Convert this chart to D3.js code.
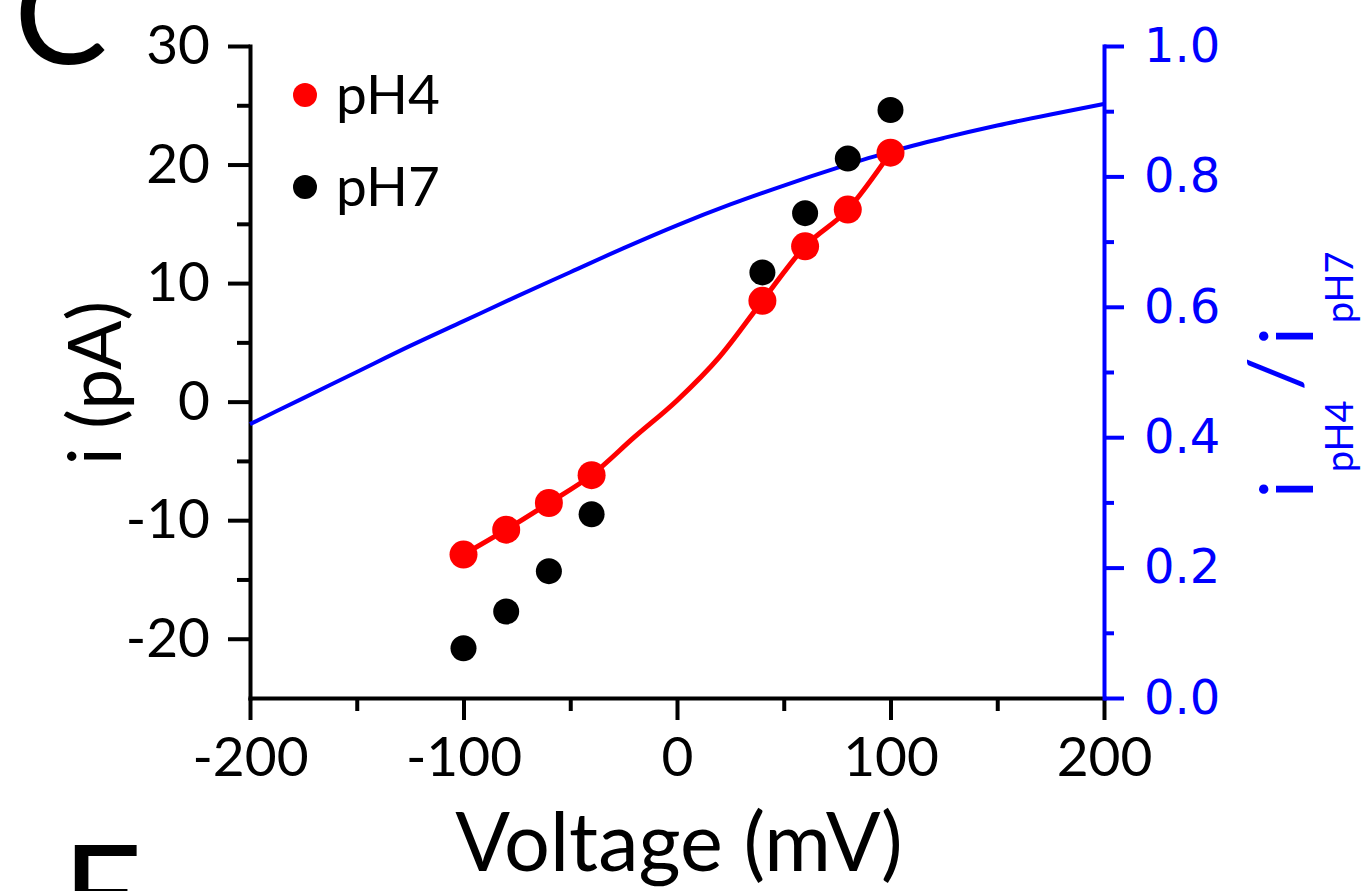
<!DOCTYPE html>
<html>
<head>
<meta charset="utf-8">
<script src="https://cdn.jsdelivr.net/npm/d3@7"></script>
<style>
  html, body { margin: 0; padding: 0; background: #fff; }
  svg { display: block; }
</style>
</head>
<body>
<svg id="chart" width="1368" height="891"></svg>
<script>
// ---------------- data ----------------
const voltages = [-100, -80, -60, -40, 40, 60, 80, 100];
const pH4Current = [-12.9, -10.8, -8.55, -6.2, 8.5, 13.1, 16.2, 21.0];
const pH7Current = [-20.8, -17.7, -14.3, -9.5, 10.9, 15.9, 20.5, 24.6];
// red connecting line (pH4 fit)
const fitVoltages = [-100, -80, -60, -40, -20, 0, 20, 40, 60, 80, 100];
const fitCurrent = [-12.9, -10.8, -8.55, -6.2, -3.0, 0.1, 3.8, 8.5, 13.1, 16.2, 21.0];
// blue ratio curve i_pH4 / i_pH7
const ratioVoltages = [-200, -175, -150, -125, -100, -75, -50, -25, 0, 25, 50, 75, 100, 125, 150, 175, 200];
const ratioValues = [0.420, 0.460, 0.500, 0.540, 0.578, 0.616, 0.653, 0.690, 0.725, 0.757, 0.786, 0.813, 0.838, 0.859, 0.878, 0.895, 0.911];
// ticks
const xTicks = [-200, -100, 0, 100, 200];
const xMinorTicks = [-150, -50, 50, 150];
const yLeftTicks = [-20, -10, 0, 10, 20, 30];
const yLeftMinorTicks = [-15, -5, 5, 15, 25];
const yRightTicks = [0, 0.2, 0.4, 0.6, 0.8, 1.0];
const yRightMinorTicks = [0.1, 0.3, 0.5, 0.7, 0.9];
const legendLabels = ["pH4", "pH7"];

// ---------------- drawing ----------------
const svg = d3.select("#chart");
const BLUE = "#0000ff", RED = "#ff0000";
const FONT = "Lato, 'Open Sans', sans-serif";
const RFONT = "'DejaVu Sans', sans-serif";
const intFmt = d => String(d);           // plain hyphen-minus like the reference
const decFmt = d => d.toFixed(1);

const x = d3.scaleLinear().domain([-200, 200]).range([250, 1104]);
const yL = d3.scaleLinear().domain([-25, 30]).range([698, 46]);
const yR = d3.scaleLinear().domain([0, 1]).range([698, 46]);

function styleAxis(g, color, font, size) {
  g.selectAll("path.domain").attr("stroke", color).attr("stroke-width", 4).attr("stroke-linecap", "square");
  g.selectAll(".tick line").attr("stroke", color).attr("stroke-width", 4);
  g.selectAll(".tick text").attr("fill", color).style("font-family", font).style("font-size", size + "px");
}

// left minor
svg.append("g").attr("transform", "translate(250,0)")
  .call(d3.axisLeft(yL).tickValues(yLeftMinorTicks).tickSize(13).tickFormat(""))
  .call(g => { g.select(".domain").remove(); styleAxis(g, "#000", FONT, 55); });
// left major
svg.append("g").attr("transform", "translate(250,0)")
  .call(d3.axisLeft(yL).tickValues(yLeftTicks).tickSize(22).tickSizeOuter(0).tickPadding(18).tickFormat(intFmt))
  .call(g => styleAxis(g, "#000", FONT, 55));

// bottom minor
svg.append("g").attr("transform", "translate(0,698)")
  .call(d3.axisBottom(x).tickValues(xMinorTicks).tickSize(13).tickFormat(""))
  .call(g => { g.select(".domain").remove(); styleAxis(g, "#000", FONT, 55); });
// bottom major
svg.append("g").attr("transform", "translate(0,698)")
  .call(d3.axisBottom(x).tickValues(xTicks).tickSize(22).tickSizeOuter(0).tickPadding(17).tickFormat(intFmt))
  .call(g => styleAxis(g, "#000", FONT, 55));

// right minor
svg.append("g").attr("transform", "translate(1104,0)")
  .call(d3.axisRight(yR).tickValues(yRightMinorTicks).tickSize(10).tickFormat(""))
  .call(g => { g.select(".domain").remove(); styleAxis(g, BLUE, RFONT, 48); });
// right major
svg.append("g").attr("transform", "translate(1104,0)")
  .call(d3.axisRight(yR).tickValues(yRightTicks).tickSize(20).tickSizeOuter(0).tickPadding(20).tickFormat(decFmt))
  .call(g => styleAxis(g, BLUE, RFONT, 48));

// blue ratio curve
svg.append("path")
  .datum(ratioVoltages.map((v, i) => [v, ratioValues[i]]))
  .attr("fill", "none").attr("stroke", BLUE).attr("stroke-width", 4)
  .attr("d", d3.line().x(d => x(d[0])).y(d => yR(d[1])).curve(d3.curveMonotoneX));

// red fit line
svg.append("path")
  .datum(fitVoltages.map((v, i) => [v, fitCurrent[i]]))
  .attr("fill", "none").attr("stroke", RED).attr("stroke-width", 5).attr("stroke-linejoin", "round")
  .attr("d", d3.line().x(d => x(d[0])).y(d => yL(d[1])).curve(d3.curveMonotoneX));

// pH7 points
svg.append("g").selectAll("circle")
  .data(voltages.map((v, i) => [v, pH7Current[i]]))
  .join("circle")
  .attr("cx", d => x(d[0])).attr("cy", d => yL(d[1])).attr("r", 13).attr("fill", "#000");

// pH4 points
svg.append("g").selectAll("circle")
  .data(voltages.map((v, i) => [v, pH4Current[i]]))
  .join("circle")
  .attr("cx", d => x(d[0])).attr("cy", d => yL(d[1])).attr("r", 14).attr("fill", RED);

// legend
const legendColors = [RED, "#000"];
const lg = svg.append("g");
legendLabels.forEach((lab, i) => {
  const cy = 95 + i * 92;
  lg.append("circle").attr("cx", 305).attr("cy", cy).attr("r", 12).attr("fill", legendColors[i]);
  lg.append("text").attr("x", 336).attr("y", cy + 19).text(lab)
    .style("font-family", FONT).style("font-size", "55px").attr("fill", "#000");
});

// axis titles
svg.append("text").attr("x", 679).attr("y", 871).attr("text-anchor", "middle")
  .text("Voltage (mV)").style("font-family", FONT).style("font-size", "81px").attr("fill", "#000");

svg.append("text").attr("transform", "translate(121,383) rotate(-90)").attr("text-anchor", "middle")
  .text("i (pA)").style("font-family", FONT).style("font-size", "73px").attr("fill", "#000");

const rt = svg.append("text").attr("transform", "translate(1313,498) rotate(-90)").attr("text-anchor", "start")
  .style("font-family", FONT).style("font-size", "74px").attr("fill", BLUE);
rt.append("tspan").text("i");
rt.append("tspan").attr("dx", 8).attr("dy", 40).style("font-size", "38px").text("pH4");
rt.append("tspan").attr("dx", 10).attr("dy", -52).style("font-size", "74px").text("/");
rt.append("tspan").attr("dx", 12).attr("dy", 12).text("i");
rt.append("tspan").attr("dx", 4).attr("dy", 40).style("font-size", "38px").text("pH7");

// neighbouring panel letters (cropped by the picture edge as in the reference)
svg.append("text").attr("x", 14).attr("y", 64).text("C")
  .style("font-family", FONT).style("font-size", "140px").attr("fill", "#000");
svg.append("text").attr("x", 62).attr("y", 945).text("E")
  .style("font-family", FONT).style("font-size", "140px").attr("fill", "#000");
</script>
</body>
</html>
